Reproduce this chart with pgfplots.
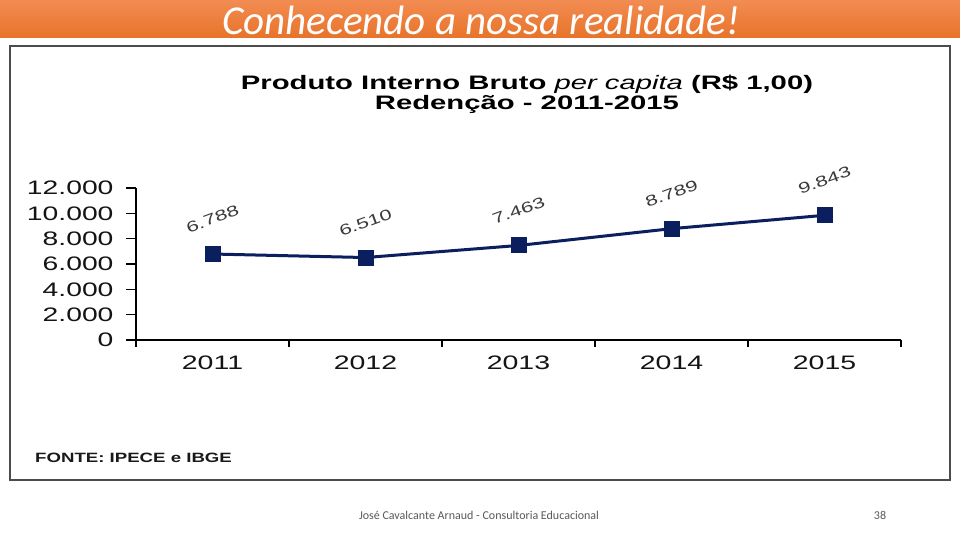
\documentclass[border=0pt]{standalone}
\usepackage{fontspec}
\setmainfont{Liberation Sans}
\newfontfamily\carlito{Carlito}
\usepackage{graphicx}
\usepackage{pgfplots}
\pgfplotsset{compat=1.18}
\definecolor{navy}{HTML}{0B1F5E}
\definecolor{orTop}{HTML}{F28C52}
\definecolor{orBot}{HTML}{E8732A}
\definecolor{lab}{HTML}{3A3A3A}
\newcommand{\sx}[1]{\scalebox{1.46}[1]{#1}}
\newcommand{\sy}[1]{\scalebox{1.45}[1]{#1}}
\begin{document}
\begin{tikzpicture}[x=1pt,y=1pt]
\useasboundingbox (0,0) rectangle (960,540);
\fill[white] (0,0) rectangle (960,540);
\shade[top color=orTop,bottom color=orBot] (0,502) rectangle (960,540);
\node[font=\carlito\itshape\fontsize{41}{41}\selectfont, text=white, inner sep=0pt] at (481,520) {Conhecendo a nossa realidade!};
\draw[black!70, line width=1.5pt] (10,60) rectangle (950,494);
\node[font=\bfseries\fontsize{19.5}{20}\selectfont, inner sep=0pt, text=black] at (527,456) {\scalebox{1.5}[1]{Produto Interno Bruto \textmd{\itshape per capita} (R\$ 1,00)}};
\node[font=\bfseries\fontsize{19.5}{20}\selectfont, inner sep=0pt, text=black] at (527,436) {\scalebox{1.5}[1]{Redenção - 2011-2015}};
\node[anchor=west,font=\bfseries\fontsize{13.5}{14}\selectfont, inner sep=0pt, text=black!90] at (35,82) {\scalebox{1.38}[1]{FONTE: IPECE e IBGE}};
\node[font=\carlito\fontsize{12}{12}\selectfont, text=black!65, inner sep=0pt] at (479,25) {José Cavalcante Arnaud - Consultoria Educacional};
\node[font=\carlito\fontsize{12}{12}\selectfont, text=black!65, inner sep=0pt] at (880,25) {38};
\begin{axis}[
  at={(136pt,200pt)}, anchor=south west,
  scale only axis, width=765pt, height=152pt,
  xmin=-0.5, xmax=4.5, ymin=0, ymax=12000,
  scaled y ticks=false,
  axis x line=bottom, axis y line=left,
  axis line style={-, line width=1.6pt, black},
  tick align=outside,
  xtick={0,1,2,3,4},
  xticklabels={\sx{2011},\sx{2012},\sx{2013},\sx{2014},\sx{2015}},
  x tick style={draw=none},
  extra x ticks={-0.5,0.5,1.5,2.5,3.5,4.5},
  extra x tick labels={},
  extra x tick style={x tick style={draw=black, line width=1.4pt}, major tick length=7pt},
  ytick={0,2000,4000,6000,8000,10000,12000},
  yticklabels={\sy{0},\sy{2.000},\sy{4.000},\sy{6.000},\sy{8.000},\sy{10.000},\sy{12.000}},
  y tick style={line width=1.4pt, black},
  major tick length=10pt,
  ticklabel style={font=\fontsize{19.5}{20}\selectfont, text=black!92},
  xticklabel style={yshift=-2pt},
  yticklabel style={xshift=-9pt},
  point meta=explicit symbolic,
  nodes near coords={\sx{\pgfplotspointmeta}},
  nodes near coords align={center},
  every node near coord/.append style={anchor=center, yshift=35pt, rotate=20, font=\fontsize{15}{15}\selectfont, text=lab},
  clip=false,
]
\addplot[navy, line width=3pt, mark=square*, mark size=7.5pt, mark options={fill=navy, draw=navy, line width=0pt}] coordinates {
(0,6788) [6.788]
(1,6510) [6.510]
(2,7463) [7.463]
(3,8789) [8.789]
(4,9843) [9.843]
};
\end{axis}
\end{tikzpicture}
\end{document}
